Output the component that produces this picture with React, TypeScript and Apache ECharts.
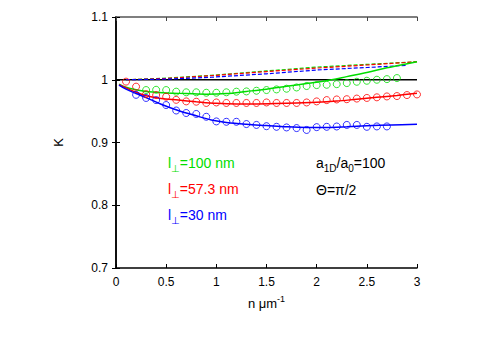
import React, { useEffect, useRef } from "react";
import * as echarts from "echarts";

// ---- data ----
const greenCircleX = [0.3, 0.4, 0.5, 0.6, 0.7, 0.8, 0.9, 1.0, 1.1, 1.2, 1.3, 1.4, 1.5, 1.6, 1.7, 1.8, 1.9, 2.0, 2.1, 2.2, 2.3, 2.4, 2.5, 2.6, 2.7, 2.8];
const greenCircleK = [0.9836, 0.984, 0.9836, 0.981, 0.98, 0.98, 0.9793, 0.9793, 0.98, 0.981, 0.9814, 0.9825, 0.9836, 0.9846, 0.9857, 0.9877, 0.99, 0.9915, 0.992, 0.993, 0.9947, 0.9968, 0.9984, 1.0, 1.001, 1.0027];

const redCircleX = [0.1, 0.2, 0.3, 0.4, 0.5, 0.6, 0.7, 0.8, 0.9, 1.0, 1.1, 1.2, 1.3, 1.4, 1.5, 1.6, 1.7, 1.8, 1.9, 2.0, 2.1, 2.2, 2.3, 2.4, 2.5, 2.6, 2.7, 2.8, 2.9, 3.0];
const redCircleK = [0.997, 0.989, 0.977, 0.9756, 0.973, 0.968, 0.9655, 0.965, 0.963, 0.9638, 0.963, 0.963, 0.963, 0.963, 0.9638, 0.963, 0.963, 0.963, 0.9638, 0.9655, 0.9676, 0.9686, 0.969, 0.97, 0.971, 0.972, 0.9734, 0.974, 0.9756, 0.9766];

const blueCircleX = [0.2, 0.3, 0.4, 0.5, 0.6, 0.7, 0.8, 0.9, 1.0, 1.1, 1.2, 1.3, 1.4, 1.5, 1.6, 1.7, 1.8, 1.9, 2.0, 2.1, 2.2, 2.3, 2.4, 2.5, 2.6, 2.7];
const blueCircleK = [0.976, 0.971, 0.9676, 0.9597, 0.951, 0.947, 0.9455, 0.941, 0.9336, 0.933, 0.933, 0.9294, 0.928, 0.926, 0.925, 0.924, 0.923, 0.92, 0.9245, 0.925, 0.9255, 0.928, 0.928, 0.925, 0.9256, 0.9256];

const greenSolidX = [0.03, 0.1, 0.2, 0.3, 0.5, 0.7, 0.9, 1.1, 1.3, 1.5, 1.7, 1.9, 2.0, 2.15, 2.3, 2.5, 2.7, 2.8, 3.0];
const greenSolidK = [0.993, 0.988, 0.984, 0.9814, 0.979, 0.978, 0.977, 0.978, 0.9814, 0.985, 0.9895, 0.994, 0.996, 1.0, 1.005, 1.0117, 1.019, 1.0223, 1.0287];

const redSolidX = [0.03, 0.1, 0.2, 0.3, 0.45, 0.62, 0.8, 1.0, 1.2, 1.4, 1.6, 1.8, 2.0, 2.2, 2.4, 2.6, 2.8, 3.0];
const redSolidK = [0.992, 0.987, 0.98, 0.9745, 0.97, 0.9676, 0.965, 0.9625, 0.9615, 0.9615, 0.962, 0.963, 0.964, 0.966, 0.969, 0.972, 0.975, 0.9785];

const blueSolidX = [0.03, 0.1, 0.2, 0.3, 0.45, 0.62, 0.8, 0.95, 1.1, 1.3, 1.5, 1.7, 1.9, 2.1, 2.3, 2.5, 2.75, 3.0];
const blueSolidK = [0.9915, 0.985, 0.978, 0.9715, 0.961, 0.951, 0.9425, 0.936, 0.932, 0.929, 0.927, 0.925, 0.924, 0.924, 0.925, 0.9265, 0.928, 0.929];

const greenDashX = [0.1, 0.5, 0.95, 1.5, 2.0, 2.5, 3.0];
const greenDashK = [1.0, 1.0025, 1.007, 1.014, 1.0202, 1.0245, 1.0287];
const redDashX = [0.1, 0.5, 0.95, 1.5, 2.0, 2.5, 3.0];
const redDashK = [1.0, 1.002, 1.0065, 1.013, 1.0186, 1.0235, 1.0287];
const blueDashX = [0.1, 0.5, 0.95, 1.5, 2.0, 2.5, 2.9];
const blueDashK = [1.0, 1.001, 1.004, 1.0095, 1.0155, 1.0195, 1.023];

const refLineX = [0, 3];
const refLineK = [1, 1];

const xTickValues = [0, 0.5, 1, 1.5, 2, 2.5, 3];
const yTickValues = [0.7, 0.8, 0.9, 1.0, 1.1];

const GREEN = "#00dd00";
const RED = "#ff0000";
const BLUE = "#0000ff";
const FONT = "'Liberation Sans', Arial, Helvetica, 'DejaVu Sans', sans-serif";

const zip = (xs: number[], ys: number[]) => xs.map((x, i) => [x, ys[i]]);

export default function App() {
  const ref = useRef<HTMLDivElement>(null);
  useEffect(() => {
    document.body.style.margin = "0";
    if (!ref.current) return;
    const chart = echarts.init(ref.current, null, { renderer: "svg" });

    const lineS = (name: string, xs: number[], ys: number[], color: string, dashed: boolean, width = 1.5) => ({
      name,
      type: "line",
      data: zip(xs, ys),
      showSymbol: false,
      symbol: "none",
      smooth: dashed ? false : 0.35,
      lineStyle: { color, width, type: dashed ? [4, 2] : "solid" },
      z: 3,
    });
    const circS = (name: string, xs: number[], ys: number[], color: string) => ({
      name,
      type: "scatter",
      data: zip(xs, ys),
      symbol: "circle",
      symbolSize: 7,
      itemStyle: { color: "rgba(0,0,0,0)", borderColor: color, borderWidth: 1 },
      z: 4,
    });

    const mainText = { fontSize: 14, fontFamily: FONT, lineHeight: 20, verticalAlign: "middle" };
    const subText = { fontSize: 10, fontFamily: FONT, lineHeight: 10, verticalAlign: "bottom" };

    const option: any = {
      animation: false,
      backgroundColor: "#ffffff",
      textStyle: { fontFamily: FONT },
      grid: { left: 116, top: 17, right: 74, bottom: 75 },
      xAxis: [
        {
          type: "value",
          min: 0,
          max: 3,
          interval: 0.5,
          position: "bottom",
          name: "{a|n μm}{s|-1}",
          nameLocation: "middle",
          nameGap: 26,
          nameTextStyle: {
            rich: {
              a: { fontSize: 13, fontFamily: FONT, color: "#000", lineHeight: 18, verticalAlign: "middle" },
              s: { fontSize: 9, fontFamily: FONT, color: "#000", lineHeight: 9, verticalAlign: "top" },
            },
          },
          axisLine: { lineStyle: { color: "#000", width: 1.5 } },
          axisTick: { inside: true, length: 4, lineStyle: { color: "#000" } },
          axisLabel: {
            color: "#000",
            fontSize: 12,
            fontFamily: FONT,
            margin: 8,
            customValues: xTickValues,
            formatter: (v: number) => String(Math.round(v * 10) / 10),
          },
          splitLine: { show: false },
        },
        {
          type: "value",
          min: 0,
          max: 3,
          interval: 0.5,
          position: "top",
          axisLine: { lineStyle: { color: "#555", width: 1.5 } },
          axisTick: { inside: true, length: 4, lineStyle: { color: "#444" } },
          axisLabel: { show: false },
          splitLine: { show: false },
        },
      ],
      yAxis: [
        {
          type: "value",
          min: 0.7,
          max: 1.1,
          interval: 0.1,
          position: "left",
          name: "K",
          nameLocation: "middle",
          nameGap: 51,
          nameTextStyle: { color: "#000", fontSize: 13, fontFamily: FONT },
          axisLine: { lineStyle: { color: "#000", width: 1.5 } },
          axisTick: { inside: true, length: 4, lineStyle: { color: "#000" } },
          axisLabel: {
            color: "#000",
            fontSize: 12,
            fontFamily: FONT,
            margin: 8,
            customValues: yTickValues,
            formatter: (v: number) => String(Math.round(v * 10) / 10),
          },
          splitLine: { show: false },
        },
        {
          type: "value",
          min: 0.7,
          max: 1.1,
          interval: 0.1,
          position: "right",
          axisLine: { lineStyle: { color: "#000", width: 1.5 } },
          axisTick: { inside: true, length: 4, lineStyle: { color: "#000" } },
          axisLabel: { show: false },
          splitLine: { show: false },
        },
      ],
      series: [
        lineS("K=1", refLineX, refLineK, "#000", false, 1.5),
        lineS("green dashed", greenDashX, greenDashK, GREEN, true, 1.2),
        lineS("red dashed", redDashX, redDashK, RED, true, 1.2),
        lineS("blue dashed", blueDashX, blueDashK, BLUE, true, 1.2),
        lineS("l=100 nm", greenSolidX, greenSolidK, GREEN, false),
        lineS("l=57.3 nm", redSolidX, redSolidK, RED, false),
        lineS("l=30 nm", blueSolidX, blueSolidK, BLUE, false),
        circS("green data", greenCircleX, greenCircleK, GREEN),
        circS("red data", redCircleX, redCircleK, RED),
        circS("blue data", blueCircleX, blueCircleK, BLUE),
      ],
      graphic: [
        {
          type: "text",
          left: 168,
          top: 156,
          style: {
            text: "{m|l}{s|⊥}{m|=100 nm}",
            fill: GREEN,
            rich: { m: { ...mainText, fill: GREEN }, s: { ...subText, fill: GREEN } },
          },
        },
        {
          type: "text",
          left: 168,
          top: 182,
          style: {
            text: "{m|l}{s|⊥}{m|=57.3 nm}",
            fill: RED,
            rich: { m: { ...mainText, fill: RED }, s: { ...subText, fill: RED } },
          },
        },
        {
          type: "text",
          left: 168,
          top: 208,
          style: {
            text: "{m|l}{s|⊥}{m|=30 nm}",
            fill: BLUE,
            rich: { m: { ...mainText, fill: BLUE }, s: { ...subText, fill: BLUE } },
          },
        },
        {
          type: "text",
          left: 316,
          top: 156,
          style: {
            text: "{m|a}{s|1D}{m|/a}{s|0}{m|=100}",
            fill: "#000",
            rich: { m: { ...mainText, fill: "#000" }, s: { ...subText, fill: "#000" } },
          },
        },
        {
          type: "text",
          left: 316,
          top: 183,
          style: {
            text: "{m|Θ=π/2}",
            fill: "#000",
            rich: { m: { ...mainText, fill: "#000" } },
          },
        },
      ],
    };
    chart.setOption(option);
    return () => chart.dispose();
  }, []);
  return <div ref={ref} style={{ width: 491, height: 343 }} />;
}
